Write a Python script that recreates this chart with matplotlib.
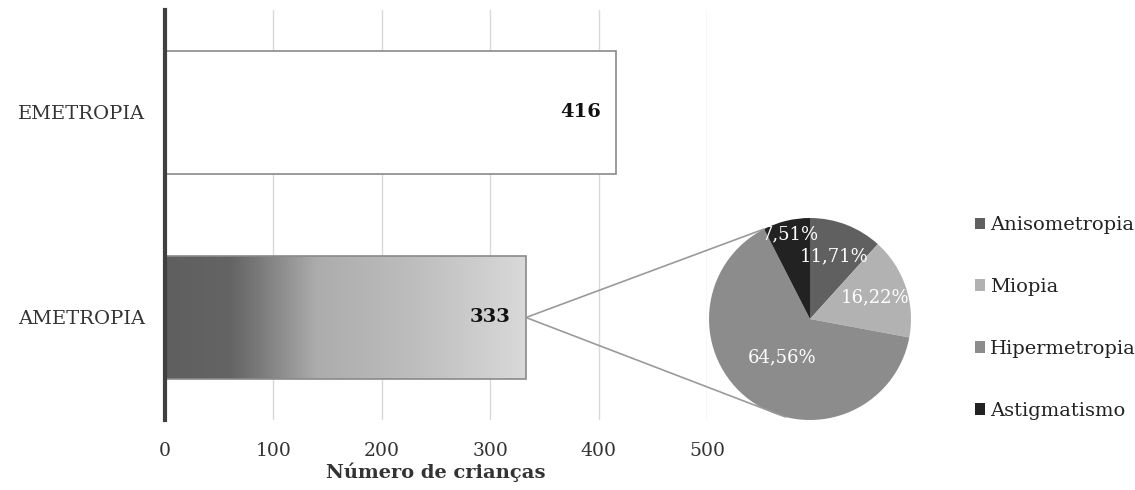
import numpy as np
import matplotlib
matplotlib.use('Agg')
import matplotlib.pyplot as plt
from matplotlib.patches import ConnectionPatch, Rectangle
from matplotlib.colors import LinearSegmentedColormap

plt.rcParams['font.family'] = ['DejaVu Serif']

# dados das barras
categorias = ["AMETROPIA", "EMETROPIA"]
n_criancas = [333, 416]

# dados do grafico de setores (ametropias)
tipos = ["Anisometropia", "Miopia", "Hipermetropia", "Astigmatismo"]
percentuais = [11.71, 16.22, 64.56, 7.51]
cores_pie = ["#606060", "#b2b2b2", "#8c8c8c", "#222222"]

fig = plt.figure(figsize=(11.35, 4.9), dpi=100)
ax = fig.add_axes([165 / 1135, 1 - 420 / 490, 542 / 1135, 410 / 490])

y = np.arange(len(categorias))
barras = ax.barh(y, n_criancas, height=0.6, color="white", edgecolor="#8a8a8a",
                 linewidth=1.2, zorder=3)

# gradiente na barra de ametropia
grad = LinearSegmentedColormap.from_list(
    "g", [(0, "#5f5f5f"), (0.18, "#646464"), (0.26, "#7a7a7a"), (0.42, "#acacac"),
          (0.7, "#bebebe"), (1, "#d9d9d9")])
b = barras[0]
img = ax.imshow(np.linspace(0, 1, 256).reshape(1, -1), cmap=grad, aspect="auto",
                extent=[0, n_criancas[0], b.get_y(), b.get_y() + b.get_height()],
                zorder=2.5, interpolation="bicubic")
clip = Rectangle((0, b.get_y()), n_criancas[0], b.get_height(), transform=ax.transData)
img.set_clip_path(clip)
b.set_facecolor("none")

for v, yy in zip(n_criancas, y):
    ax.text(v - 14, yy, str(v), ha="right", va="center", fontsize=14,
            fontweight="bold", color="#111111", zorder=4)

ax.set_xlim(0, 500)
ax.set_ylim(-0.5, 1.5)
ax.set_xticks(range(0, 501, 100))
ax.set_yticks(y)
ax.set_yticklabels(categorias, fontsize=14, color="#333333")
ax.tick_params(axis="x", labelsize=13.5, colors="#333333", length=0, pad=16)
ax.tick_params(axis="y", length=0, pad=14)
ax.grid(axis="x", color="#d9d9d9", linewidth=1, zorder=0)
for s in ["top", "right", "bottom"]:
    ax.spines[s].set_visible(False)
ax.spines["left"].set_color("#404040")
ax.spines["left"].set_linewidth(3)
ax.spines["left"].set_zorder(5)
ax.set_xlabel("Número de crianças", fontsize=14, fontweight="bold", color="#333333", labelpad=2)

# grafico de setores
axp = fig.add_axes([709 / 1135, 1 - 420 / 490, 202 / 1135, 202 / 490])
wedges, _ = axp.pie(percentuais, colors=cores_pie, startangle=90, counterclock=False,
                    radius=1.0)
axp.set_xlim(-1, 1)
axp.set_ylim(-1, 1)
axp.set_aspect("equal")

raios = [0.66, 0.68, 0.47, 0.86]
ang = 90.0
for p, r in zip(percentuais, raios):
    meio = np.deg2rad(ang - p * 3.6 / 2)
    ang -= p * 3.6
    axp.text(r * np.cos(meio), r * np.sin(meio), f"{p:.2f}%".replace(".", ","),
             ha="center", va="center", color="white", fontsize=13)

# linhas de ligacao barra -> setores
for a in [117, -104]:
    t = np.deg2rad(a)
    con = ConnectionPatch(xyA=(n_criancas[0], 0), coordsA=ax.transData,
                          xyB=(np.cos(t), np.sin(t)), coordsB=axp.transData,
                          color="#9a9a9a", linewidth=1.2, zorder=1)
    fig.add_artist(con)

# legenda
leg = fig.legend(wedges, tipos, loc="center left", bbox_to_anchor=(965 / 1135, 1 - 318 / 490),
                 frameon=False, fontsize=14, handlelength=0.55, handleheight=0.55,
                 handletextpad=0.25, labelspacing=2.25, borderpad=0)
for t in leg.get_texts():
    t.set_color("#222222")

fig.savefig("out.png", dpi=100)
